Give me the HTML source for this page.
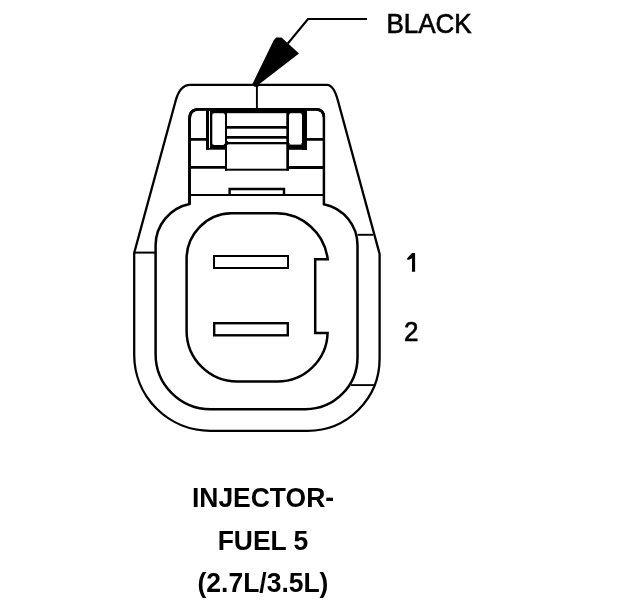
<!DOCTYPE html>
<html><head><meta charset="utf-8">
<style>
html,body{margin:0;padding:0;background:#fff;width:624px;height:600px;overflow:hidden}
svg{display:block}
text{font-family:"Liberation Sans",sans-serif;fill:#000}
.b{font-weight:bold}
</style></head>
<body>
<svg width="624" height="600" viewBox="0 0 624 600">
<g fill="none" stroke="#000" stroke-width="2.2" stroke-linejoin="miter">
<!-- leader -->
<polyline points="367,19 308,19 287,44.5" stroke-width="2.1"/>
<line x1="256.9" y1="84" x2="256.9" y2="109" stroke-width="1.9"/>
<!-- outer housing -->
<path d="M190,84.9 H327 Q333.8,84.9 338,101 L379.6,254 V358.8 A72 72 0 0 1 307.6,430.8 H210.2 A76 76 0 0 1 134.2,354.8 V253 L175.6,101 Q179.9,84.9 190,84.9 Z" stroke-width="2.3"/>
<!-- body -->
<path d="M189.5,204 V119 Q189.5,109.3 199,109.3 H315.5 Q323.9,109.3 323.9,118 V204.2 A41.9 41.9 0 0 1 357.5,245.4 V357.2 A52 52 0 0 1 305.5,409.2 H210.6 A55 55 0 0 1 155.6,354.2 V245.3 A42.3 42.3 0 0 1 189.5,204 Z" stroke-width="2.5"/>
<path d="M189.5,204 V119 Q189.5,109.3 199,109.3 H315.5 Q323.9,109.3 323.9,117" stroke-width="2.8"/>
<!-- cavity -->
<path d="M276,213.3 A52 52 0 0 1 327.7,259.3 H315.2 V333 H327.6 A50.1 50.1 0 0 1 277.5,381.5 H237.2 A50.6 50.6 0 0 1 186.6,331 V259.5 A45.5 45.5 0 0 1 231,213.3 Z" stroke-width="2.5"/>
<!-- pin slots -->
<rect x="214" y="256" width="74" height="12" stroke-width="2"/>
<rect x="214.2" y="323.2" width="73.6" height="12.1" stroke-width="2.4"/>
<!-- side lines -->
<line x1="134.2" y1="252.6" x2="155.6" y2="252.6" stroke-width="2"/>
<line x1="357.5" y1="234.8" x2="373" y2="234.8" stroke-width="1.9"/>
<line x1="351" y1="385.1" x2="374" y2="385.1" stroke-width="1.9"/>
<!-- top internals -->
<line x1="189.5" y1="195" x2="323.9" y2="195" stroke-width="2"/>
<path d="M229.6,195 V189 H284 V195" stroke-width="2.4"/>
<line x1="189.5" y1="167.4" x2="226" y2="167.4" stroke-width="2.8"/>
<line x1="288" y1="167.5" x2="323.9" y2="167.5" stroke-width="2.8"/>
<line x1="189.5" y1="139.4" x2="207" y2="139.4" stroke-width="2.7"/>
<line x1="306" y1="139.4" x2="323.9" y2="139.4" stroke-width="2.7"/>
</g>
<!-- arrowhead -->
<path d="M299,53.4 L281.5,37.6 L276.2,37.6 L273.6,40.6 L252.6,83.6 L254,86.8 L256.5,86.2 Z" fill="#000"/>
<circle cx="256.8" cy="85.2" r="2" fill="#000"/>
<!-- latch -->
<g fill="#000" stroke="none">
<rect x="206" y="108" width="101" height="5.2"/>
<rect x="206" y="108" width="3" height="41.7"/>
<rect x="210" y="111" width="2.3" height="37"/>
<rect x="206" y="145" width="21" height="4.7"/>
<rect x="225" y="108" width="2" height="62.7"/>
<rect x="286.3" y="108" width="2.7" height="62.5"/>
<rect x="302" y="108" width="5" height="42"/>
<rect x="287" y="144.6" width="20" height="5.2"/>
<rect x="226" y="126" width="61" height="2.7"/>
<rect x="226" y="136" width="61" height="2.7"/>
<rect x="226" y="142" width="61" height="2.3"/>
<rect x="225" y="168.7" width="64" height="2"/>
</g>
<rect x="209" y="111" width="1" height="37" fill="#fff"/>
<path fill="#000" d="M212.3,113.2 h1.6 l-1.6,1.6 z M225,113.2 h-1.6 l1.6,1.6 z M212.3,145 h1.6 l-1.6,-1.6 z M225,145 h-1.6 l1.6,-1.6 z M289,113.2 h1.6 l-1.6,1.6 z M302,113.2 h-1.6 l1.6,1.6 z M289,144.6 h1.6 l-1.6,-1.6 z M302,144.6 h-1.6 l1.6,-1.6 z"/>
<rect x="226.7" y="141.2" width="1.5" height="3.5" fill="#000"/>

<!-- texts -->
<g style="filter:grayscale(1)">
<g transform="translate(0,33) scale(1,1.04) translate(0,-33)"><text x="386.4" y="33" font-size="26" stroke="#000" stroke-width="0.6">BLACK</text></g>
<path d="M412,252.9 H415.1 V271.8 H412 V258.3 L409,259.8 H407.2 V258.2 Z" fill="#000"/>
<g transform="translate(0,341) scale(1,1.04) translate(0,-341)"><text x="404" y="341" font-size="26" stroke="#000" stroke-width="0.6">2</text></g>
<g transform="translate(263,507) scale(1.018,1.04) translate(-263,-507)"><text class="b" x="263" y="507" font-size="26" text-anchor="middle">INJECTOR-</text></g>
<g transform="translate(263,550) scale(1.018,1.04) translate(-263,-550)"><text class="b" x="263" y="550" font-size="26" text-anchor="middle">FUEL 5</text></g>
<g transform="translate(263,592) scale(1.018,1.04) translate(-263,-592)"><text class="b" x="263" y="592" font-size="26" text-anchor="middle">(2.7L/3.5L)</text></g>
</g>
</svg>
</body></html>
